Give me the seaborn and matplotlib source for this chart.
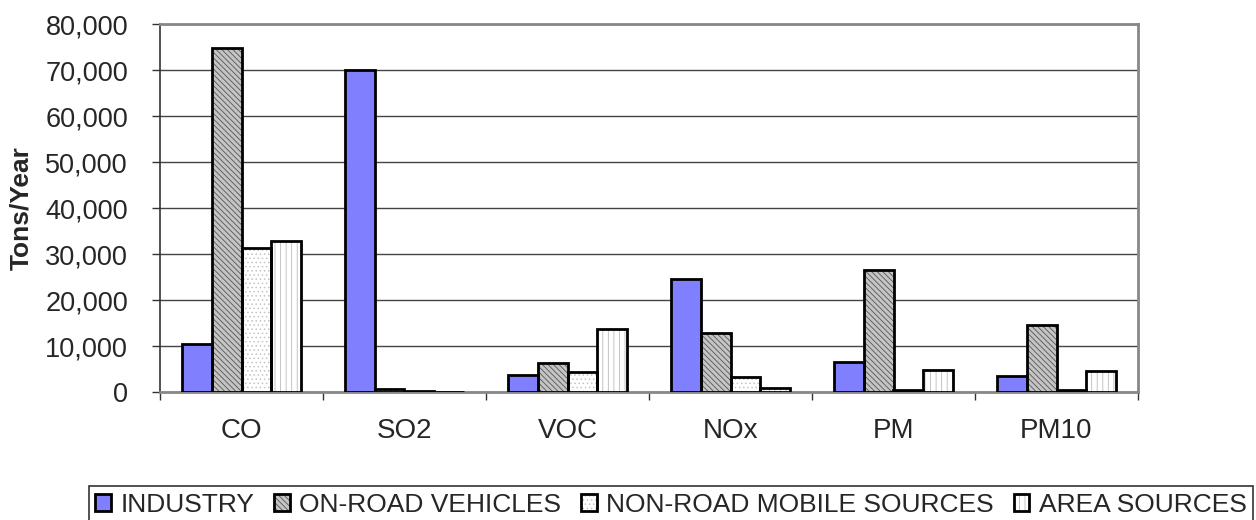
import numpy as np
import pandas as pd
import matplotlib
matplotlib.use("Agg")
import matplotlib.pyplot as plt
from matplotlib.ticker import FuncFormatter, FixedLocator
from matplotlib.legend_handler import HandlerTuple
import seaborn as sns

# Pollutants on the x axis
POLLUTANTS = ["CO", "SO2", "VOC", "NOx", "PM", "PM10"]
SOURCES = ["INDUSTRY", "ON-ROAD VEHICLES", "NON-ROAD MOBILE SOURCES", "AREA SOURCES"]

# Tons/Year per source
industry = [10500, 70000, 3800, 24500, 6500, 3500]
on_road  = [74700, 600, 6400, 12800, 26500, 14600]
non_road = [31300, 300, 4400, 3300, 400, 400]
area     = [32900, 100, 13600, 900, 4800, 4600]

Y_TICKS = [0, 10000, 20000, 30000, 40000, 50000, 60000, 70000, 80000]

sns.set_style("white")
plt.rcParams["font.family"] = ["Liberation Sans", "DejaVu Sans"]
plt.rcParams["hatch.linewidth"] = 0.6

rows = []
for src, vals in zip(SOURCES, [industry, on_road, non_road, area]):
    for pol, v in zip(POLLUTANTS, vals):
        rows.append({"pollutant": pol, "source": src, "tons": v})
df = pd.DataFrame(rows)

fig = plt.figure(figsize=(12.56, 5.2), dpi=100)
ax = fig.add_axes([160 / 1256, 128 / 520, 978 / 1256, 368 / 520])

palette = {"INDUSTRY": "#8080FF", "ON-ROAD VEHICLES": "#c4c4c4",
           "NON-ROAD MOBILE SOURCES": "white", "AREA SOURCES": "white"}
bar_kw = dict(data=df, x="pollutant", y="tons", hue="source", order=POLLUTANTS,
              hue_order=SOURCES, palette=palette, width=0.73, saturation=1,
              legend=False, ax=ax)

# layer 1: fills with coloured hatching
sns.barplot(**bar_kw, linewidth=0, zorder=3)
fill_conts = list(ax.containers)
hatches = [None, "\\\\\\\\\\\\", "....", "|||"]
hatch_cols = ["#8080FF", "#555555", "#c4c4c4", "#bbbbbb"]
for cont, h, hc in zip(fill_conts, hatches, hatch_cols):
    for bar in cont:
        bar.set_edgecolor(hc)
        bar.set_linewidth(0)
        if h:
            bar.set_hatch(h)

# layer 2: black outlines
sns.barplot(**bar_kw, edgecolor="black", linewidth=2, zorder=4)
edge_conts = list(ax.containers)[len(fill_conts):]
for cont in edge_conts:
    for bar in cont:
        bar.set_facecolor("none")

ax.set_ylim(0, 80000)
ax.set_xlim(-0.5, len(POLLUTANTS) - 0.5)
ax.set_yticks(Y_TICKS)
ax.yaxis.set_major_formatter(FuncFormatter(lambda v, p: f"{int(v):,}"))
ax.grid(axis="y", color="#444444", linewidth=1, zorder=0)
ax.set_axisbelow(True)

ax.tick_params(axis="y", direction="out", length=6, width=1, color="#333333",
               labelsize=19.5, pad=17, left=True)
ax.tick_params(axis="x", which="major", length=0, labelsize=20, pad=19)
ax.xaxis.set_minor_locator(FixedLocator(np.arange(-0.5, len(POLLUTANTS), 1.0)))
ax.tick_params(axis="x", which="minor", direction="out", length=6, width=1,
               color="#333333", bottom=True)

ax.set_xlabel("")
ax.set_ylabel("Tons/Year", fontsize=19, fontweight="bold")
ax.yaxis.set_label_coords(-0.13, 0.5)

for side in ["top", "right", "bottom"]:
    ax.spines[side].set_color("#888888")
    ax.spines[side].set_linewidth(2)
ax.spines["left"].set_color("#333333")
ax.spines["left"].set_linewidth(1.2)
for s in ax.spines.values():
    s.set_visible(True)

handles = [(f[0], e[0]) for f, e in zip(fill_conts, edge_conts)]
leg = fig.legend(handles=handles, labels=SOURCES, loc="upper center",
                 handler_map={tuple: HandlerTuple(ndivide=1, pad=0)},
                 bbox_to_anchor=(671 / 1256, 34 / 520), ncol=4, fontsize=19,
                 frameon=True, fancybox=False, edgecolor="black",
                 handlelength=0.6, handleheight=0.6, handletextpad=0.35,
                 columnspacing=0.75, borderpad=0.25, borderaxespad=0)
leg.get_frame().set_linewidth(1.2)

fig.savefig("out.png", dpi=100)
